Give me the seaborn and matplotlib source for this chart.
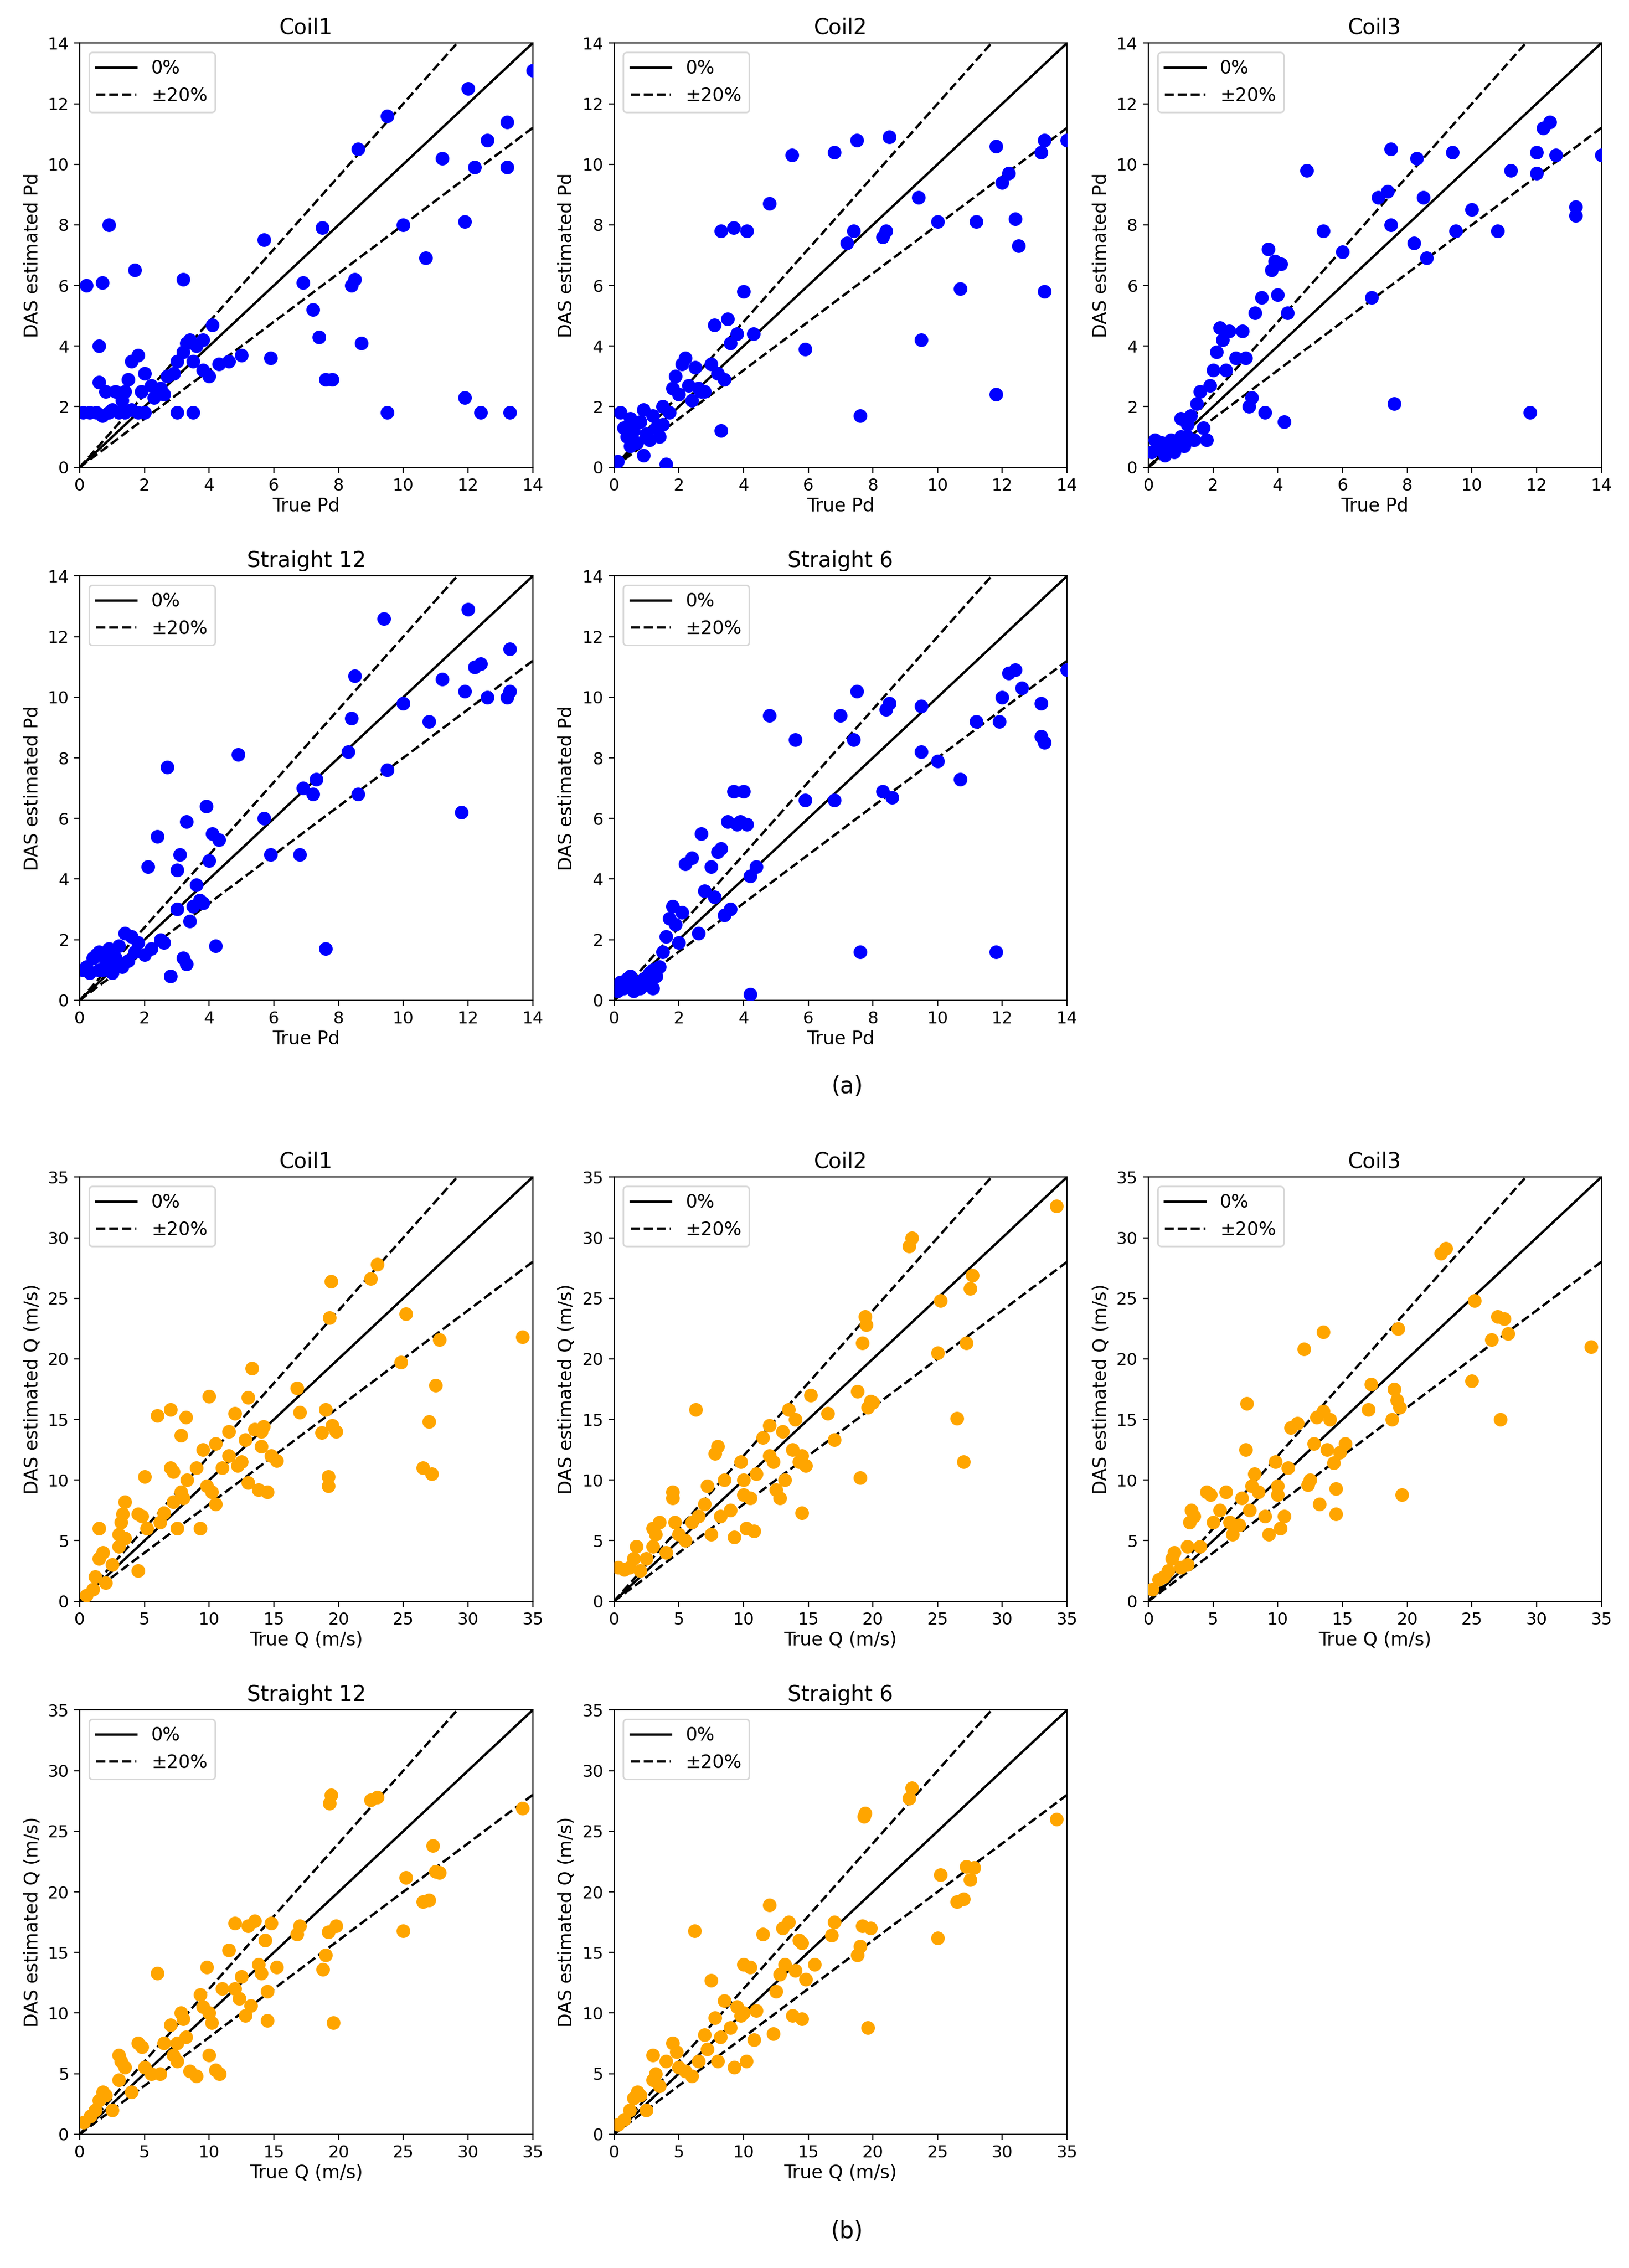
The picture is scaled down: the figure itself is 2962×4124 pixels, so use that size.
import numpy as np
import pandas as pd
import matplotlib
matplotlib.use("Agg")
import matplotlib.pyplot as plt
import seaborn as sns

# (true, estimated) pairs
coil1_pd = [(0.2,6.0),(0.7,6.1),(0.9,8.0),(1.7,6.5),(0.6,4.0),(0.1,1.8),(0.3,1.8),(0.5,1.8),(0.7,1.7),(0.9,1.8),(1.0,1.9),(1.2,1.8),(1.4,1.8),(1.6,1.9),(1.8,1.8),(2.0,1.8),(0.6,2.8),(0.8,2.5),(1.1,2.5),(1.3,2.2),(1.5,2.9),(1.6,3.5),(1.8,3.7),(1.9,2.5),(2.0,3.1),(2.2,2.7),(2.3,2.3),(2.5,2.6),(2.7,3.0),(2.9,3.1),(3.0,3.5),(3.2,3.8),(3.3,4.1),(3.4,4.2),(3.6,4.0),(3.5,3.5),(3.2,6.2),(3.0,1.8),(3.5,1.8),(3.8,3.2),(4.0,3.0),(4.1,4.7),(4.3,3.4),(4.6,3.5),(5.0,3.7),(5.7,7.5),(5.9,3.6),(6.9,6.1),(7.2,5.2),(7.4,4.3),(7.5,7.9),(7.6,2.9),(7.8,2.9),(8.4,6.0),(8.6,10.5),(8.5,6.2),(8.7,4.1),(9.5,11.6),(9.5,1.8),(10.0,8.0),(10.7,6.9),(11.2,10.2),(11.9,8.1),(12.0,12.5),(11.9,2.3),(12.2,9.9),(12.4,1.8),(12.6,10.8),(13.2,11.4),(13.2,9.9),(13.3,1.8),(14.0,13.1),(3.8,4.2),(2.6,2.4),(1.4,2.5)]
coil2_pd = [(0.1,0.2),(0.2,1.8),(0.3,1.3),(0.4,1.0),(0.5,1.6),(0.6,1.2),(0.7,0.8),(0.8,1.5),(0.9,1.9),(1.0,1.1),(1.1,0.9),(1.2,1.7),(1.3,1.3),(1.4,1.0),(1.5,1.4),(1.6,0.1),(1.7,1.8),(1.8,2.6),(1.9,3.0),(2.0,2.4),(2.1,3.4),(2.2,3.6),(2.4,2.2),(2.5,3.3),(2.6,2.6),(2.8,2.5),(3.0,3.4),(3.1,4.7),(3.2,3.1),(3.3,7.8),(3.4,2.9),(3.5,4.9),(3.6,4.1),(3.7,7.9),(3.8,4.4),(4.0,5.8),(4.1,7.8),(4.3,4.4),(4.8,8.7),(5.5,10.3),(5.9,3.9),(6.8,10.4),(7.2,7.4),(7.4,7.8),(7.5,10.8),(7.6,1.7),(8.3,7.6),(8.5,10.9),(8.4,7.8),(9.4,8.9),(9.5,4.2),(10.0,8.1),(10.7,5.9),(11.2,8.1),(11.8,10.6),(11.8,2.4),(12.0,9.4),(12.2,9.7),(12.4,8.2),(12.5,7.3),(13.2,10.4),(13.3,10.8),(13.3,5.8),(14.0,10.8),(3.3,1.2),(2.3,2.7),(1.5,2.0),(0.5,0.7),(0.9,0.4),(2.7,2.5)]
coil3_pd = [(0.1,0.5),(0.2,0.9),(0.3,0.6),(0.4,0.8),(0.5,0.4),(0.6,0.7),(0.7,0.9),(0.8,0.5),(0.9,0.8),(1.0,1.0),(1.1,0.7),(1.2,1.4),(1.3,1.7),(1.4,0.9),(1.5,2.1),(1.6,2.5),(1.7,1.3),(1.8,0.9),(1.9,2.7),(2.0,3.2),(2.1,3.8),(2.2,4.6),(2.3,4.2),(2.5,4.5),(2.7,3.6),(2.9,4.5),(3.0,3.6),(3.1,2.0),(3.2,2.3),(3.3,5.1),(3.5,5.6),(3.6,1.8),(3.7,7.2),(3.8,6.5),(3.9,6.8),(4.0,5.7),(4.1,6.7),(4.2,1.5),(4.3,5.1),(4.9,9.8),(5.4,7.8),(6.0,7.1),(6.9,5.6),(7.1,8.9),(7.4,9.1),(7.5,10.5),(7.6,2.1),(7.5,8.0),(8.2,7.4),(8.3,10.2),(8.5,8.9),(8.6,6.9),(9.4,10.4),(9.5,7.8),(10.0,8.5),(10.8,7.8),(11.2,9.8),(11.8,1.8),(12.0,10.4),(12.0,9.7),(12.2,11.2),(12.4,11.4),(12.6,10.3),(13.2,8.6),(13.2,8.3),(14.0,10.3),(1.0,1.6),(0.5,0.6),(2.4,3.2),(1.2,1.0)]
straight12_pd = [(0.1,1.0),(0.2,1.1),(0.3,0.9),(0.4,1.4),(0.5,1.5),(0.6,1.6),(0.7,1.0),(0.8,1.3),(0.9,1.7),(1.0,0.9),(1.1,1.4),(1.2,1.8),(1.3,1.1),(1.4,2.2),(1.5,1.3),(1.6,2.1),(1.7,1.6),(1.8,1.9),(2.0,1.5),(2.1,4.4),(2.2,1.7),(2.4,5.4),(2.6,1.9),(2.7,7.7),(2.8,0.8),(3.0,4.3),(3.1,4.8),(3.2,1.4),(3.3,5.9),(3.3,1.2),(3.4,2.6),(3.5,3.1),(3.6,3.8),(3.7,3.3),(3.8,3.2),(3.9,6.4),(4.0,4.6),(4.1,5.5),(4.2,1.8),(4.3,5.3),(4.9,8.1),(5.7,6.0),(5.9,4.8),(6.8,4.8),(6.9,7.0),(7.2,6.8),(7.3,7.3),(7.6,1.7),(8.3,8.2),(8.4,9.3),(8.5,10.7),(8.6,6.8),(9.4,12.6),(9.5,7.6),(10.0,9.8),(10.8,9.2),(11.2,10.6),(11.8,6.2),(11.9,10.2),(12.0,12.9),(12.2,11.0),(12.4,11.1),(12.6,10.0),(13.2,10.0),(13.3,11.6),(13.3,10.2),(1.0,1.2),(0.6,1.0),(2.5,2.0),(3.0,3.0)]
straight6_pd = [(0.1,0.3),(0.2,0.6),(0.3,0.4),(0.4,0.7),(0.5,0.5),(0.6,0.3),(0.7,0.6),(0.8,0.4),(0.9,0.7),(1.0,0.5),(1.1,0.9),(1.2,0.4),(1.3,0.8),(1.4,1.1),(1.5,1.6),(1.6,2.1),(1.7,2.7),(1.8,3.1),(1.9,2.5),(2.0,1.9),(2.1,2.9),(2.2,4.5),(2.4,4.7),(2.6,2.2),(2.7,5.5),(2.8,3.6),(3.0,4.4),(3.1,3.4),(3.2,4.9),(3.3,5.0),(3.4,2.8),(3.5,5.9),(3.6,3.0),(3.7,6.9),(3.8,5.8),(3.9,5.9),(4.0,6.9),(4.1,5.8),(4.2,0.2),(4.2,4.1),(4.4,4.4),(4.8,9.4),(5.6,8.6),(5.9,6.6),(6.8,6.6),(7.0,9.4),(7.4,8.6),(7.5,10.2),(7.6,1.6),(8.3,6.9),(8.4,9.6),(8.5,9.8),(8.6,6.7),(9.5,9.7),(9.5,8.2),(10.0,7.9),(10.7,7.3),(11.2,9.2),(11.8,1.6),(11.9,9.2),(12.0,10.0),(12.2,10.8),(12.4,10.9),(12.6,10.3),(13.2,9.8),(13.2,8.7),(13.3,8.5),(14.0,10.9),(0.5,0.8),(1.2,1.0)]

coil1_q = [(0.5,0.5),(1.0,1.0),(1.2,2.0),(1.5,3.5),(1.8,4.0),(1.5,6.0),(2.0,1.5),(2.5,3.0),(3.0,4.5),(3.0,5.5),(3.2,6.5),(3.3,7.2),(3.5,8.2),(3.5,5.2),(4.5,2.5),(4.5,7.2),(4.8,7.0),(5.0,10.3),(5.2,6.0),(6.0,15.3),(6.2,6.5),(6.5,7.3),(7.0,15.8),(7.0,11.0),(7.2,10.7),(7.2,8.2),(7.5,6.0),(7.8,13.7),(7.8,9.0),(8.0,8.5),(8.2,15.2),(8.3,10.0),(9.0,11.0),(9.3,6.0),(9.5,12.5),(9.8,9.5),(10.0,16.9),(10.2,9.0),(10.5,13.0),(10.5,8.0),(11.0,11.0),(11.5,14.0),(12.0,15.5),(12.2,11.2),(12.5,11.5),(12.8,13.3),(13.0,16.8),(13.0,9.8),(13.3,19.2),(13.5,14.2),(13.8,9.2),(14.0,12.8),(14.2,14.4),(14.5,9.0),(14.8,12.0),(15.2,11.6),(16.8,17.6),(17.0,15.6),(18.7,13.9),(19.0,15.8),(19.2,9.5),(19.2,10.3),(19.3,23.4),(19.4,26.4),(19.5,14.5),(19.8,14.0),(22.5,26.6),(23.0,27.8),(24.8,19.7),(25.2,23.7),(26.5,11.0),(27.0,14.8),(27.2,10.5),(27.5,17.8),(27.8,21.6),(34.2,21.8),(14.0,14.0),(11.5,12.0)]
coil2_q = [(0.3,2.8),(0.8,2.6),(1.2,2.8),(1.5,3.5),(1.7,4.5),(2.0,2.5),(2.5,3.5),(3.0,6.0),(3.0,4.5),(3.2,5.5),(3.5,6.5),(4.0,4.0),(4.5,8.5),(4.5,9.0),(4.7,6.5),(5.0,5.5),(5.5,5.0),(6.0,6.5),(6.3,15.8),(6.5,7.0),(7.0,8.0),(7.2,9.5),(7.5,5.5),(7.8,12.2),(8.0,12.8),(8.2,7.0),(8.5,10.0),(9.0,7.5),(9.3,5.3),(9.8,11.5),(10.0,8.8),(10.2,6.0),(10.5,8.5),(10.8,5.8),(11.0,10.5),(11.5,13.5),(12.0,14.5),(12.3,11.5),(12.5,9.2),(12.8,8.5),(13.0,14.0),(13.2,10.0),(13.5,15.8),(13.8,12.5),(14.0,15.0),(14.3,11.5),(14.5,7.3),(14.5,12.0),(14.8,11.2),(15.2,17.0),(16.5,15.5),(17.0,13.3),(18.8,17.3),(19.0,10.2),(19.2,21.3),(19.4,23.5),(19.5,22.8),(19.6,16.0),(19.8,16.5),(20.0,16.4),(22.8,29.3),(23.0,30.0),(25.0,20.5),(25.2,24.8),(26.5,15.1),(27.0,11.5),(27.2,21.3),(27.5,25.8),(27.7,26.9),(34.2,32.6),(10.0,10.0),(12.0,12.0)]
coil3_q = [(0.3,1.0),(0.8,1.8),(1.2,2.0),(1.5,2.5),(1.8,3.5),(2.0,4.0),(2.5,2.8),(3.0,4.5),(3.2,6.5),(3.3,7.5),(3.5,7.0),(4.0,4.5),(4.5,9.0),(4.8,8.8),(5.0,6.5),(5.5,7.5),(6.0,9.0),(6.3,6.5),(6.5,5.5),(7.0,6.3),(7.2,8.5),(7.5,12.5),(7.6,16.3),(7.8,7.5),(8.0,9.5),(8.2,10.5),(8.5,9.0),(9.0,7.0),(9.3,5.5),(9.8,11.5),(10.0,8.8),(10.2,6.0),(10.5,7.0),(10.8,11.0),(11.0,14.3),(11.5,14.7),(12.0,20.8),(12.3,9.6),(12.5,10.0),(12.8,13.0),(13.0,15.2),(13.2,8.0),(13.5,22.2),(13.5,15.7),(13.8,12.5),(14.0,15.0),(14.3,11.4),(14.5,7.2),(14.5,9.3),(14.8,12.3),(15.2,13.0),(17.0,15.8),(17.2,17.9),(18.8,15.0),(19.0,17.5),(19.2,16.6),(19.3,22.5),(19.4,16.0),(19.6,8.8),(22.6,28.7),(23.0,29.1),(25.0,18.2),(25.2,24.8),(26.5,21.6),(27.0,23.5),(27.2,15.0),(27.5,23.3),(27.8,22.1),(34.2,21.0),(10.0,9.5),(3.0,3.0)]
straight12_q = [(0.3,1.0),(0.8,1.5),(1.2,2.0),(1.5,2.8),(1.8,3.5),(2.0,3.2),(2.5,2.0),(3.0,4.5),(3.0,6.5),(3.2,6.0),(3.5,5.5),(4.0,3.5),(4.5,7.5),(4.8,7.2),(5.0,5.5),(5.5,5.0),(6.0,13.3),(6.2,5.0),(6.5,7.5),(7.0,9.0),(7.2,6.5),(7.5,6.0),(7.8,10.0),(8.0,9.5),(8.2,8.0),(8.5,5.2),(9.0,4.8),(9.3,11.5),(9.5,10.5),(9.8,13.8),(10.0,6.5),(10.2,9.2),(10.5,5.3),(10.8,5.0),(11.0,12.0),(11.5,15.2),(12.0,17.4),(12.3,11.2),(12.5,13.0),(12.8,9.8),(13.0,17.2),(13.2,10.6),(13.5,17.6),(13.8,14.0),(14.0,13.3),(14.3,16.0),(14.5,9.4),(14.5,11.8),(14.8,17.4),(15.2,13.8),(16.8,16.5),(17.0,17.2),(18.8,13.6),(19.0,14.8),(19.2,16.7),(19.3,27.3),(19.4,28.0),(19.6,9.2),(19.8,17.2),(22.5,27.6),(23.0,27.8),(25.0,16.8),(25.2,21.2),(26.5,19.2),(27.0,19.3),(27.3,23.8),(27.5,21.7),(27.8,21.6),(34.2,26.9),(7.5,7.5),(10.0,10.0),(12.0,12.0)]
straight6_q = [(0.3,0.8),(0.8,1.2),(1.2,2.0),(1.5,3.0),(1.8,3.5),(2.0,3.2),(2.5,2.0),(3.0,4.5),(3.0,6.5),(3.2,5.0),(3.5,4.0),(4.0,6.0),(4.5,7.5),(4.8,6.8),(5.0,5.5),(5.5,5.2),(6.0,4.8),(6.2,16.8),(6.5,6.0),(7.0,8.2),(7.2,7.0),(7.5,12.7),(7.8,9.6),(8.0,6.0),(8.2,8.0),(8.5,11.0),(9.0,8.8),(9.3,5.5),(9.5,10.5),(9.8,9.8),(10.0,14.0),(10.2,6.0),(10.5,13.8),(10.8,7.8),(11.0,10.2),(11.5,16.5),(12.0,18.9),(12.3,8.3),(12.5,11.8),(12.8,13.2),(13.0,17.0),(13.2,14.0),(13.5,17.5),(13.8,9.8),(14.0,13.5),(14.3,16.0),(14.5,9.5),(14.5,15.8),(14.8,12.8),(15.5,14.0),(16.8,16.4),(17.0,17.5),(18.8,14.8),(19.0,15.5),(19.2,17.2),(19.3,26.2),(19.4,26.5),(19.6,8.8),(19.8,17.0),(22.8,27.7),(23.0,28.6),(25.0,16.2),(25.2,21.4),(26.5,19.2),(27.0,19.4),(27.2,22.1),(27.5,21.0),(27.8,22.0),(34.2,26.0),(10.0,10.0)]

titles = ["Coil1", "Coil2", "Coil3", "Straight 12", "Straight 6"]
pd_sets = [coil1_pd, coil2_pd, coil3_pd, straight12_pd, straight6_pd]
q_sets = [coil1_q, coil2_q, coil3_q, straight12_q, straight6_q]

plt.rcParams['font.family'] = ['DejaVu Sans']
fig = plt.figure(figsize=(14.81, 20.62), dpi=200)

lefts = [0.049, 0.377, 0.705]
w, h = 0.278, 0.187
bottoms_a = [0.794, 0.559]
bottoms_b = [0.294, 0.059]


def panel(rect, pts, title, lim, ticks, xlabel, ylabel, color):
    ax = fig.add_axes(rect)
    df = pd.DataFrame(pts, columns=["x", "y"])
    sns.scatterplot(data=df, x="x", y="y", ax=ax, color=color, s=80,
                    edgecolor=color, linewidth=0, zorder=3)
    xs = np.array([0, lim])
    ax.plot(xs, xs, 'k-', lw=1.6, label="0%")
    ax.plot(xs, 1.2 * xs, 'k--', lw=1.6, label="±20%")
    ax.plot(xs, 0.8 * xs, 'k--', lw=1.6)
    ax.set_xlim(0, lim)
    ax.set_ylim(0, lim)
    ax.set_xticks(ticks)
    ax.set_yticks(ticks)
    ax.tick_params(labelsize=11)
    ax.set_xlabel(xlabel, fontsize=12, labelpad=2)
    ax.set_ylabel(ylabel, fontsize=12)
    ax.set_title(title, fontsize=14)
    ax.legend(loc="upper left", fontsize=12, handlelength=2.2)


for i, (pts, t) in enumerate(zip(pd_sets, titles)):
    r, c = divmod(i, 3)
    panel([lefts[c], bottoms_a[r], w, h], pts, t, 14, range(0, 15, 2),
          "True Pd", "DAS estimated Pd", "#0000ff")
for i, (pts, t) in enumerate(zip(q_sets, titles)):
    r, c = divmod(i, 3)
    panel([lefts[c], bottoms_b[r], w, h], pts, t, 35, range(0, 36, 5),
          "True Q (m/s)", "DAS estimated Q (m/s)", "#ffa500")

fig.text(0.52, 0.518, "(a)", ha="center", fontsize=15)
fig.text(0.52, 0.013, "(b)", ha="center", fontsize=15)

fig.savefig("out.png", dpi=200)
